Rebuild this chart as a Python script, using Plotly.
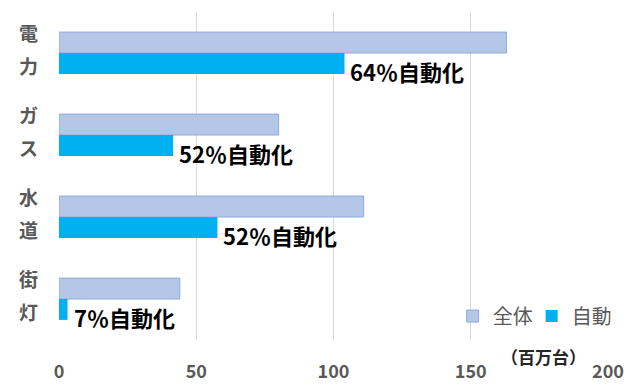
import plotly.graph_objects as go

categories = ["電力", "ガス", "水道", "街灯"]
total = [163, 80, 111, 44]
auto = [104, 41.6, 57.7, 3.1]
auto_pct = [64, 52, 52, 7]
x_ticks = [0, 50, 100, 150, 200]

FONT = "Noto Sans CJK JP"
GRAY = "#595959"

fig = go.Figure()
fig.add_trace(go.Bar(
    y=categories, x=total, orientation="h", name="全体",
    marker=dict(color="#B4C7E7", line=dict(color="#8FAADC", width=1)),
))
fig.add_trace(go.Bar(
    y=categories, x=auto, orientation="h", name="自動",
    marker=dict(color="#00B0F0", line=dict(width=0)),
))

annotations = []
for cat, v, p in zip(categories, auto, auto_pct):
    annotations.append(dict(
        x=v, y=cat, xref="x", yref="y", text=f"<b>{p}％自動化</b>",
        showarrow=False, xanchor="left", yanchor="middle",
        xshift=4, yshift=-18,
        font=dict(family=FONT, size=22, color="#000000"),
    ))
    annotations.append(dict(
        x=0, y=cat, xref="paper", yref="y", text="<b>" + cat[0] + "</b>",
        showarrow=False, xanchor="center", yanchor="middle",
        xshift=-31, yshift=21,
        font=dict(family=FONT, size=19, color=GRAY),
    ))
    annotations.append(dict(
        x=0, y=cat, xref="paper", yref="y", text="<b>" + cat[1] + "</b>",
        showarrow=False, xanchor="center", yanchor="middle",
        xshift=-31, yshift=-12,
        font=dict(family=FONT, size=19, color=GRAY),
    ))

annotations.append(dict(
    x=0.883, y=-0.05, xref="paper", yref="paper", text="<b>（百万台）</b>",
    showarrow=False, xanchor="center", yanchor="middle",
    font=dict(family=FONT, size=17, color="#262626"),
))

# page body has an 8px margin, so the figure is shrunk by 8px to fit the window
fig.update_layout(
    width=632, height=376, autosize=False,
    margin=dict(l=51, r=32, t=4, b=44, autoexpand=False),
    paper_bgcolor="white", plot_bgcolor="white",
    barmode="group", bargap=0.49, bargroupgap=0,
    showlegend=True,
    legend=dict(
        orientation="h", x=0.717, y=0.073, xanchor="left", yanchor="middle",
        font=dict(family=FONT, size=20, color=GRAY),
        bgcolor="rgba(0,0,0,0)", itemwidth=30, entrywidth=34,
        traceorder="normal",
    ),
    xaxis=dict(
        range=[0, 200], tickvals=x_ticks, ticktext=[f"<b>{v}</b>" for v in x_ticks],
        showgrid=True, gridcolor="#D9D9D9", gridwidth=1,
        zeroline=False, showline=False, automargin=False,
        ticks="outside", ticklen=0, ticklabelstandoff=15,
        tickfont=dict(family=FONT, size=18, color=GRAY),
    ),
    yaxis=dict(
        type="category", autorange="reversed", showticklabels=False,
        showgrid=False, zeroline=False, showline=False, automargin=False,
    ),
    annotations=annotations,
)

fig.write_html("out.html")
